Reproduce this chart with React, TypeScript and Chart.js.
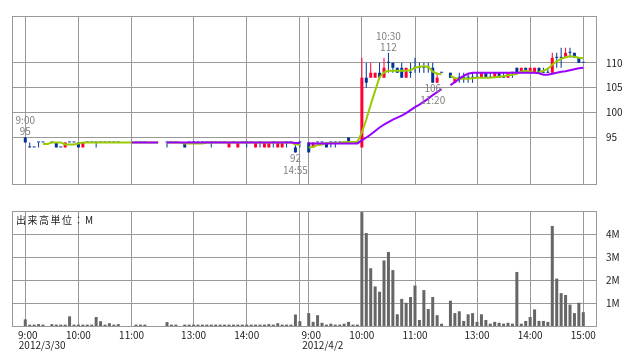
import React, { useEffect, useRef } from "react";
import { Chart, registerables } from "chart.js";

Chart.register(...registerables);

const FONT = '"Noto Sans CJK JP", "Noto Sans", sans-serif';

// 5-minute slots: day 1 9:00 = slot 0 ... 15:00 = slot 62; day 2 9:00 = slot 64 ... 15:00 = slot 126
const day1Open = [
  95, 93, 93, 94, 94, null, 94, 94, 93, 93,
  94, 94, 94, 93, 94, 94, 94, 94, 94, 94,
  94, 94, null, null, null, 94, 94, 94, null, null,
  null, null, 94, 94, 94, null, 94, 94, 94, 94,
  94, 94, 94, 94, 94, 94, 93, 94, 93, 94,
  94, 94, 93, 94, 93, 93, 94, 93, 93, 94,
  94, 93, 94,
];
const day1High = [
  95, 94, 93, 94, 94, null, 94, 94, 93, 94,
  94, 94, 94, 94, 94, 94, 94, 94, 94, 94,
  94, 94, null, null, null, 94, 94, 94, null, null,
  null, null, 94, 94, 94, null, 94, 94, 94, 94,
  94, 94, 94, 94, 94, 94, 94, 94, 94, 94,
  94, 94, 94, 94, 94, 94, 94, 94, 94, 94,
  94, 94, 94,
];
const day1Low = [
  94, 93, 93, 93, 94, null, 94, 93, 93, 93,
  94, 94, 93, 93, 94, 94, 93, 94, 94, 94,
  94, 94, null, null, null, 94, 94, 94, null, null,
  null, null, 93, 94, 94, null, 93, 94, 94, 94,
  94, 94, 93, 94, 94, 94, 93, 94, 93, 94,
  93, 94, 93, 93, 93, 93, 93, 93, 93, 93,
  94, 92, 93,
];
const day1Close = [
  94, 93, 93, 94, 94, null, 94, 93, 93, 94,
  94, 94, 93, 94, 94, 94, 94, 94, 94, 94,
  94, 94, null, null, null, 94, 94, 94, null, null,
  null, null, 94, 94, 94, null, 93, 94, 94, 94,
  94, 94, 94, 94, 94, 94, 94, 94, 94, 94,
  94, 94, 94, 94, 94, 94, 94, 94, 94, 94,
  94, 92, 94,
];
const day2Open = [
  94, 93, 94, 94, 94, 94, 94, 94, 94, 95,
  94, 94, 93, 107, 107, 107, 108, 107, 110, 110,
  109, 109, 107, 108, 109, 109, 109, 109, 109, 106,
  108, null, 108, 106, 107, 107, 107, 107, 107, 107,
  108, 107, 107, 108, 107, 107, 108, 109, 108, 109,
  108, 108, 109, 108, 108, 108, 111, 111, 111, 112,
  112, 111, 110,
];
const day2High = [
  94, 94, 94, 94, 94, 94, 94, 94, 94, 95,
  94, 94, 111, 110, 110, 108, 110, 111, 112, 110,
  109, 110, 109, 110, 111, 110, 110, 110, 110, 108,
  108, null, 108, 107, 108, 108, 108, 108, 108, 108,
  108, 108, 108, 108, 108, 108, 108, 109, 109, 109,
  109, 109, 109, 109, 109, 112, 112, 113, 113, 113,
  112, 111, 110,
];
const day2Low = [
  92, 93, 94, 94, 93, 93, 93, 94, 94, 94,
  94, 94, 93, 105, 107, 107, 107, 107, 108, 108,
  108, 107, 107, 107, 108, 108, 108, 108, 106, 106,
  108, null, 107, 106, 106, 106, 106, 106, 107, 107,
  107, 107, 107, 107, 107, 107, 107, 108, 108, 108,
  108, 108, 108, 108, 108, 108, 109, 109, 111, 111,
  111, 110, 110,
];
const day2Close = [
  92, 94, 94, 94, 93, 94, 94, 94, 94, 94,
  94, 94, 107, 106, 108, 108, 107, 109, 110, 109,
  108, 107, 109, 108, 109, 109, 109, 109, 106, 107,
  108, null, 107, 107, 107, 107, 107, 107, 107, 108,
  107, 107, 108, 107, 107, 108, 108, 108, 109, 108,
  109, 109, 108, 108, 108, 111, 111, 111, 112, 112,
  111, 110, 110,
];

// volume in millions of shares
const day1Volume = [
  0.29, 0.06, 0.06, 0.08, 0.06, null, 0.08, 0.06, 0.06, 0.06,
  0.42, 0.06, 0.06, 0.06, 0.06, 0.06, 0.39, 0.21, 0.06, 0.12,
  0.06, 0.08, null, null, null, 0.06, 0.06, 0.06, null, null,
  null, null, 0.17, 0.06, 0.06, null, 0.06, 0.06, 0.06, 0.06,
  0.06, 0.06, 0.06, 0.06, 0.06, 0.06, 0.06, 0.06, 0.06, 0.06,
  0.06, 0.06, 0.06, 0.06, 0.06, 0.08, 0.06, 0.12, 0.06, 0.06,
  0.06, 0.5, 0.21,
];
const day2Volume = [
  0.56, 0.18, 0.47, 0.14, 0.06, 0.1, 0.06, 0.06, 0.1, 0.18,
  0.06, 0.06, 4.95, 4.04, 2.51, 1.72, 1.49, 2.85, 3.22, 2.43,
  0.51, 1.18, 1.01, 1.26, 1.76, 0.26, 1.56, 0.74, 1.26, 0.47,
  0.1, null, 1.1, 0.56, 0.64, 0.22, 0.51, 0.56, 0.18, 0.51,
  0.26, 0.1, 0.18, 0.14, 0.1, 0.14, 0.1, 2.35, 0.1, 0.22,
  0.39, 0.72, 0.22, 0.22, 0.18, 4.35, 2.06, 1.43, 1.35, 0.93,
  0.56, 1.01, 0.6,
];

// moving averages
const day1Ma5 = [
  null, null, null, null, 93.7, 93.7, 94, 94, 94, 93.6,
  93.6, 93.6, 93.8, 94, 94, 94, 94, 94, 94, 94,
  94, 94, 94, 94, 94, 94, 94, 94, 94, 94,
  94, null, 94, 94, 94, 94, 93.8, 93.8, 93.8, 93.8,
  93.8, 94, 94, 94, 94, 94, 94, 94, 94, 94,
  94, 94, 94, 94, 94, 94, 94, 94, 94, 94,
  94, 93.6, 93.6,
];
const day2Ma5 = [
  93.0, 93.1, 93.5, 93.6, 93.9, 93.9, 93.9, 93.9, 94.1, 94.1,
  94.1, 94.1, 96.0, 98.6, 101.6, 104.4, 107.1, 108.1, 108.4, 108.4,
  108.4, 108.4, 108.4, 108.5, 109.0, 109.2, 109.3, 109.2, 108.2, 107.8,
  107.7, null, 107.4, 106.9, 106.8, 106.8, 106.8, 106.9, 107.0, 107.0,
  107.0, 107.0, 107.1, 107.2, 107.3, 107.5, 107.6, 107.8, 108.2, 108.4,
  108.2, 108.0, 108.1, 108.4, 108.8, 109.6, 110.3, 110.8, 111.1, 111.3,
  111.2, 111.0, 110.9,
];
const day1Ma25 = [
  null, null, null, null, null, null, null, null, null, null,
  null, null, null, null, null, null, null, null, null, null,
  null, null, null, null, 94, 94, 94, 94, 94, 94,
  94, null, 94, 94, 94, 94, 94, 94, 94, 94,
  94, 94, 94, 94, 94, 94, 94, 94, 94, 94,
  94, 94, 94, 94, 94, 94, 94, 94, 94, 94,
  94, 93.9, 93.9,
];
const day2Ma25 = [
  93.8, 93.8, 93.8, 93.8, 93.8, 93.8, 93.8, 93.8, 93.8, 93.8,
  93.8, 93.8, 94.4, 95.0, 95.6, 96.3, 97.0, 97.6, 98.1, 98.6,
  99.0, 99.4, 99.9, 100.5, 101.1, 101.6, 102.2, 102.8, 103.5, 104.1,
  104.7, null, 105.5, 106.1, 106.8, 107.4, 107.8, 108.0, 108.0, 108.0,
  108.0, 108.0, 108.0, 108.0, 108.0, 108.0, 108.0, 108.0, 108.0, 108.0,
  108.0, 108.0, 107.9, 107.6, 107.6, 107.8, 108.0, 108.2, 108.3, 108.5,
  108.7, 108.9, 109.0,
];

// axes
const gridSlots = [0, 12, 24, 38, 50, 62, 64, 76, 88, 102, 114, 126];
const gridLabels = ["9:00", "10:00", "11:00", "13:00", "14:00", "", "9:00", "10:00", "11:00", "13:00", "14:00", "15:00"];
const dateSlots = [0, 64];
const dateLabels = ["2012/3/30", "2012/4/2"];
const priceTicks = [95, 100, 105, 110];
const volumeTicks = [1, 2, 3, 4];
const volumeUnitLabel = "出来高単位：M";

// high / low notes
const noteSlots = [0, 61, 82, 92];
const noteTimes = ["9:00", "14:55", "10:30", "11:20"];
const notePrices = [95, 92, 112, 106];
const noteKinds = ["high", "low", "high", "low"];

const open = [...day1Open, null, ...day2Open];
const high = [...day1High, null, ...day2High];
const low = [...day1Low, null, ...day2Low];
const close = [...day1Close, null, ...day2Close];
const volume = [...day1Volume, null, ...day2Volume];
const ma5 = [...day1Ma5, null, ...day2Ma5];
const ma25 = [...day1Ma25, null, ...day2Ma25];

const X_MIN = -3;
const X_MAX = 128.87;
const UP = "#ff0033";
const DOWN = "#003399";
const GRID = "#999999";
const TEXT = "#222222";
const NOTE = "#808080";

const slots = open.map((_, i) => i);
const traded = slots.filter((i) => open[i] != null);
const candleColor = (i: number) => ((close[i] as number) > (open[i] as number) ? UP : DOWN);

const framePlugin = {
  id: "frame",
  beforeDatasetsDraw(chart: any) {
    const { ctx, chartArea: a } = chart;
    ctx.save();
    ctx.strokeStyle = GRID;
    ctx.lineWidth = 1;
    const l = Math.round(a.left) + 0.5;
    const t = Math.round(a.top) + 0.5;
    const r = Math.round(a.right) + 0.5;
    const b = Math.round(a.bottom) + 0.5;
    ctx.strokeRect(l, t, r - l, b - t);
    ctx.restore();
  },
};

const notesPlugin = {
  id: "notes",
  afterDatasetsDraw(chart: any) {
    const { ctx } = chart;
    const xs = chart.scales.x;
    const ys = chart.scales.y;
    ctx.save();
    ctx.font = `10px ${FONT}`;
    ctx.fillStyle = NOTE;
    ctx.textAlign = "center";
    ctx.textBaseline = "middle";
    noteSlots.forEach((s, k) => {
      const x = xs.getPixelForValue(s);
      const y = ys.getPixelForValue(notePrices[k]);
      if (noteKinds[k] === "high") {
        ctx.fillText(noteTimes[k], x, y - 17);
        ctx.fillText(String(notePrices[k]), x, y - 6);
      } else {
        ctx.fillText(String(notePrices[k]), x, y + 6);
        ctx.fillText(noteTimes[k], x, y + 17.5);
      }
    });
    ctx.restore();
  },
};

const unitPlugin = {
  id: "unit",
  afterDatasetsDraw(chart: any) {
    const { ctx, chartArea: a } = chart;
    ctx.save();
    ctx.font = `10px ${FONT}`;
    (ctx as any).letterSpacing = "1.5px";
    ctx.fillStyle = TEXT;
    ctx.textAlign = "left";
    ctx.textBaseline = "middle";
    ctx.fillText(volumeUnitLabel, a.left + 4, a.top + 9);
    ctx.restore();
  },
};

export default function App() {
  const topRef = useRef<HTMLCanvasElement>(null);
  const botRef = useRef<HTMLCanvasElement>(null);

  useEffect(() => {
    Chart.defaults.font.family = FONT;

    const xGrid = {
      type: "linear" as const,
      min: X_MIN,
      max: X_MAX,
      offset: false,
      grid: { color: GRID, lineWidth: 1, drawTicks: false, offset: false },
      border: { display: false },
      afterBuildTicks: (s: any) => {
        s.ticks = gridSlots.map((v) => ({ value: v }));
      },
    };

    const top = new Chart(topRef.current as HTMLCanvasElement, {
      type: "bar",
      data: {
        datasets: [
          {
            type: "line",
            data: slots.map((i) => ({ x: i, y: ma25[i] })),
            borderColor: "#9900ff",
            borderWidth: 2,
            pointRadius: 0,
            spanGaps: false,
            tension: 0,
            order: 0,
          } as any,
          {
            type: "line",
            data: slots.map((i) => ({ x: i, y: ma5[i] })),
            borderColor: "#99cc00",
            borderWidth: 2,
            pointRadius: 0,
            spanGaps: false,
            tension: 0,
            order: 1,
          } as any,
          {
            type: "bar",
            data: traded.map((i) => ({
              x: i,
              y: [Math.min(open[i] as number, close[i] as number), Math.max(open[i] as number, close[i] as number)],
            })),
            backgroundColor: traded.map(candleColor),
            barThickness: 3,
            minBarLength: 1,
            grouped: false,
            inflateAmount: 0,
            borderWidth: 0,
            order: 2,
          } as any,
          {
            type: "bar",
            data: traded.map((i) => ({ x: i, y: [low[i], high[i]] })),
            backgroundColor: traded.map(candleColor),
            barThickness: 1,
            minBarLength: 0,
            grouped: false,
            inflateAmount: 0,
            borderWidth: 0,
            order: 3,
          } as any,
        ],
      },
      options: {
        animation: false,
        responsive: false,
        events: [],
        layout: { padding: { left: 12, top: 10, right: 0, bottom: 10 } },
        plugins: { legend: { display: false }, tooltip: { enabled: false } },
        scales: {
          x: {
            ...xGrid,
            ticks: { display: false },
            afterFit: (s: any) => {
              s.height = 0;
            },
          } as any,
          y: {
            type: "linear",
            position: "right",
            min: 85.65,
            max: 119.4,
            grid: { color: GRID, lineWidth: 1, drawTicks: false },
            border: { display: false },
            afterBuildTicks: (s: any) => {
              s.ticks = priceTicks.map((v) => ({ value: v }));
            },
            ticks: {
              padding: 10,
              color: TEXT,
              font: { size: 10, family: FONT },
              callback: (v: any) => String(v),
            },
            afterFit: (s: any) => {
              s.width = 42;
            },
          } as any,
        },
      },
      plugins: [framePlugin, notesPlugin],
    });

    const volTraded = slots.filter((i) => volume[i] != null);
    const bottom = new Chart(botRef.current as HTMLCanvasElement, {
      type: "bar",
      data: {
        datasets: [
          {
            data: volTraded.map((i) => ({ x: i, y: volume[i] })),
            backgroundColor: "#666666",
            barThickness: 3,
            grouped: false,
            inflateAmount: 0,
            borderWidth: 0,
          } as any,
        ],
      },
      options: {
        animation: false,
        responsive: false,
        events: [],
        layout: { padding: { left: 12, top: 10, right: 0, bottom: 0 } },
        plugins: { legend: { display: false }, tooltip: { enabled: false } },
        scales: {
          x: {
            ...xGrid,
            weight: 0,
            ticks: {
              autoSkip: false,
              maxRotation: 0,
              padding: 4,
              color: TEXT,
              font: { size: 10, lineHeight: 1, family: FONT },
              callback: (_v: any, idx: number) => {
                const l = gridLabels[idx] ?? "";
                return l.length === 4 ? "\u2002" + l : l;
              },
            },
            afterFit: (s: any) => {
              s.height = 14;
            },
          } as any,
          x2: {
            type: "linear",
            position: "bottom",
            axis: "x",
            min: X_MIN,
            max: X_MAX,
            offset: false,
            weight: 1,
            display: true,
            grid: { display: false, drawTicks: false, offset: false },
            border: { display: false },
            afterBuildTicks: (s: any) => {
              s.ticks = dateSlots.map((v) => ({ value: v }));
            },
            ticks: {
              autoSkip: false,
              maxRotation: 0,
              align: "start",
              labelOffset: -6.5,
              padding: 0,
              color: TEXT,
              font: { size: 10, lineHeight: 1, family: FONT },
              callback: (_v: any, idx: number) => dateLabels[idx] ?? "",
            },
            afterFit: (s: any) => {
              s.height = 22;
            },
          } as any,
          y: {
            type: "linear",
            position: "right",
            min: 0,
            max: 5,
            grid: { color: GRID, lineWidth: 1, drawTicks: false },
            border: { display: false },
            afterBuildTicks: (s: any) => {
              s.ticks = volumeTicks.map((v) => ({ value: v }));
            },
            ticks: {
              padding: 10,
              color: TEXT,
              font: { size: 10, family: FONT },
              callback: (v: any) => `${v}M`,
            },
            afterFit: (s: any) => {
              s.width = 42;
            },
          } as any,
        },
      },
      plugins: [framePlugin, unitPlugin],
    });

    return () => {
      top.destroy();
      bottom.destroy();
    };
  }, []);

  return (
    <div style={{ position: "fixed", left: 0, top: 0, width: 638, height: 362, background: "#ffffff" }}>
      <canvas ref={topRef} width={638} height={200} style={{ position: "absolute", left: 0, top: 0 }} />
      <canvas ref={botRef} width={638} height={167} style={{ position: "absolute", left: 0, top: 195 }} />
    </div>
  );
}
